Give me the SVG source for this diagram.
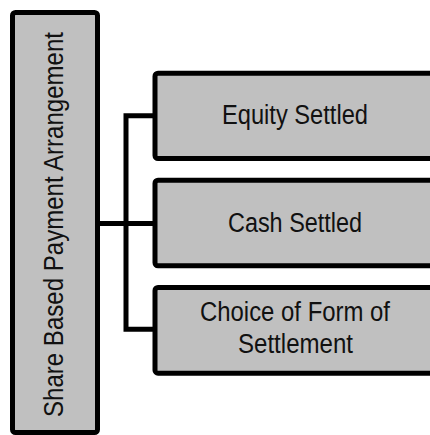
<svg xmlns="http://www.w3.org/2000/svg" width="430" height="435" viewBox="0 0 430 435">
<style>
.box{fill:#c0c0c0;stroke:#000;stroke-width:5;}
.conn{fill:none;stroke:#000;stroke-width:5;stroke-linejoin:miter;}
.lbl{font-family:"Liberation Sans",Arial,sans-serif;font-size:27px;fill:#111;text-anchor:middle;}
</style>
<rect width="430" height="435" fill="#fff"/>
<g id="connectors">
<path class="conn" d="M155,115.8 H126 V329.2 H155 M97.5,223.5 H155"/>
</g>
<g id="root">
<rect class="box" x="12.5" y="12.5" width="85" height="420" rx="3"/>
<text class="lbl" transform="translate(63,224.5) rotate(-90)" x="0" y="0" textLength="385" lengthAdjust="spacingAndGlyphs">Share Based Payment Arrangement</text>
</g>
<g id="equity">
<rect class="box" x="155" y="73.2" width="300" height="85.3" rx="3"/>
<text class="lbl" x="295" y="124" textLength="146" lengthAdjust="spacingAndGlyphs">Equity Settled</text>
</g>
<g id="cash">
<rect class="box" x="155" y="180.2" width="300" height="85.6" rx="3"/>
<text class="lbl" x="295" y="232" textLength="134" lengthAdjust="spacingAndGlyphs">Cash Settled</text>
</g>
<g id="choice">
<rect class="box" x="155" y="287.5" width="300" height="85.7" rx="3"/>
<text class="lbl" x="295" y="321" textLength="190" lengthAdjust="spacingAndGlyphs">Choice of Form of</text>
<text class="lbl" x="295.5" y="353" textLength="115" lengthAdjust="spacingAndGlyphs">Settlement</text>
</g>
</svg>
